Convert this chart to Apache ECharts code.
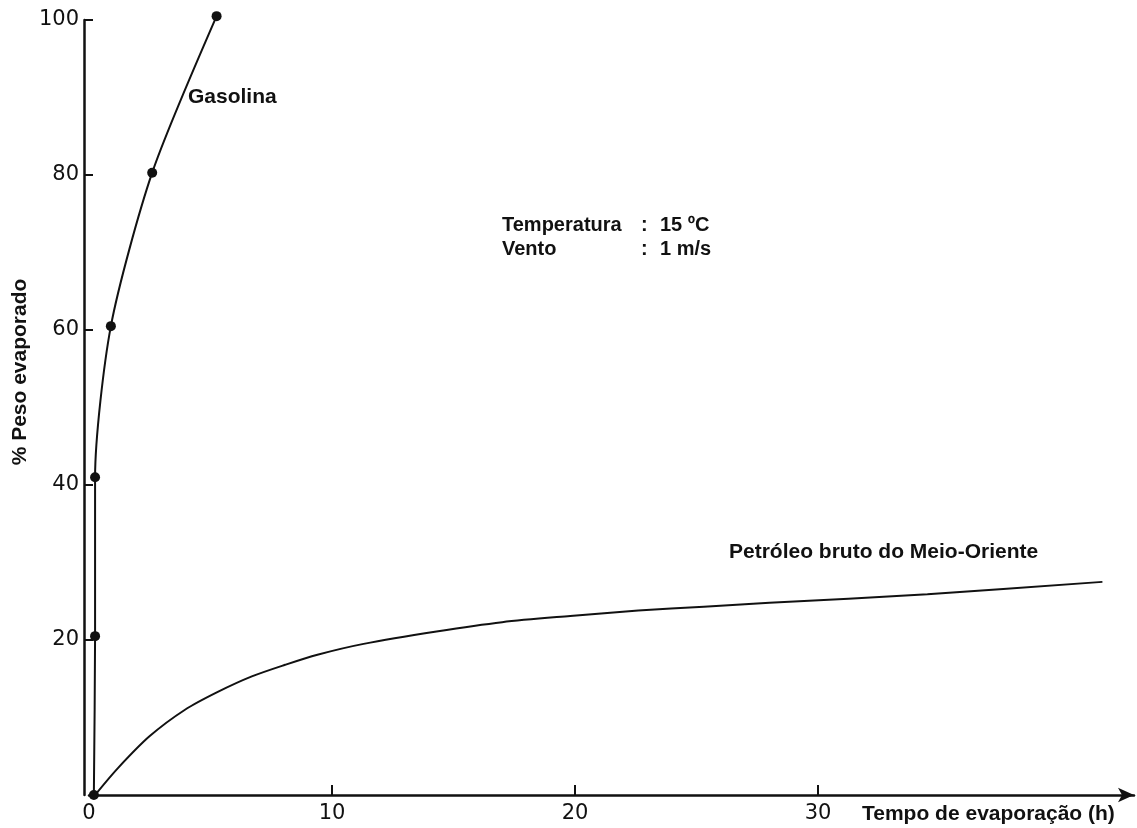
<!DOCTYPE html>
<html>
<head>
<meta charset="utf-8">
<script src="https://cdn.jsdelivr.net/npm/echarts@6/dist/echarts.min.js"></script>
<style>
html,body{margin:0;padding:0;background:#fff;}
#chart{width:1137px;height:828px;}
</style>
</head>
<body>
<div id="chart"></div>
<script>
// Data
var gasolina = [[0.2, 0], [0.25, 20.5], [0.25, 41], [0.9, 60.5], [2.6, 80.3], [5.25, 100.5]];
var petroleo = [[0.25, 0], [1.2, 3.5], [2.5, 7.6], [3.95, 11.0], [5.3, 13.3], [6.7, 15.3], [8.07, 16.8],
                [9.4, 18.1], [11.3, 19.5], [14.3, 21.1], [17, 22.3], [19.8, 23.1], [22.6, 23.8],
                [25.3, 24.3], [28, 24.8], [34.5, 25.9], [41.7, 27.5]];
var xTickLabels = [0, 10, 20, 30];
var xTicks = [10, 20, 30];
var yTickLabels = [20, 40, 60, 80, 100];

var ink = '#111';
var labelFont = 'Liberation Sans, Arial, sans-serif';
var tickFont = 'DejaVu Sans, sans-serif';

var chart = echarts.init(document.getElementById('chart'), null, {renderer: 'canvas'});
chart.setOption({
  backgroundColor: '#fff',
  animation: false,
  grid: {left: 89, top: 20, width: 1045, height: 775, containLabel: false},
  xAxis: {
    type: 'value', min: 0, max: 43, interval: 10,
    axisLine: {show: true, onZero: false, symbol: ['none', 'arrow'], symbolSize: [11, 16], lineStyle: {color: ink, width: 2.5}},
    axisTick: {show: true, inside: true, length: 10, customValues: xTicks, lineStyle: {color: ink, width: 2}},
    axisLabel: {customValues: xTickLabels, color: ink, fontFamily: tickFont, fontSize: 21, margin: 8},
    splitLine: {show: false}
  },
  yAxis: {
    type: 'value', min: 0, max: 100, interval: 20, offset: 5,
    axisLine: {show: true, onZero: false, lineStyle: {color: ink, width: 2.5}},
    axisTick: {show: true, inside: true, length: 9, customValues: yTickLabels, lineStyle: {color: ink, width: 2}},
    axisLabel: {customValues: yTickLabels, color: ink, fontFamily: tickFont, fontSize: 21, margin: 5},
    splitLine: {show: false}
  },
  series: [
    {
      name: 'Gasolina', type: 'line', data: gasolina, smooth: 0.25, clip: false,
      symbol: 'circle', symbolSize: 10, showSymbol: true,
      lineStyle: {color: ink, width: 2}, itemStyle: {color: ink}
    },
    {
      name: 'Petróleo bruto do Meio-Oriente', type: 'line', data: petroleo, smooth: 0.3, clip: false,
      showSymbol: false, symbol: 'none',
      lineStyle: {color: ink, width: 2}
    }
  ],
  graphic: [
    {type: 'text', x: 20, y: 372, rotation: Math.PI / 2,
     style: {text: '% Peso evaporado', fill: ink, font: 'bold 21px ' + labelFont, textAlign: 'center', textVerticalAlign: 'middle'}},
    {type: 'text', x: 862, y: 814,
     style: {text: 'Tempo de evaporação (h)', fill: ink, font: 'bold 21px ' + labelFont, textAlign: 'left', textVerticalAlign: 'middle'}},
    {type: 'text', x: 188, y: 97,
     style: {text: 'Gasolina', fill: ink, font: 'bold 21px ' + labelFont, textAlign: 'left', textVerticalAlign: 'middle'}},
    {type: 'text', x: 729, y: 552,
     style: {text: 'Petróleo bruto do Meio-Oriente', fill: ink, font: 'bold 21px ' + labelFont, textAlign: 'left', textVerticalAlign: 'middle'}},
    {type: 'text', x: 502, y: 225,
     style: {text: 'Temperatura', fill: ink, font: 'bold 20px ' + labelFont, textAlign: 'left', textVerticalAlign: 'middle'}},
    {type: 'text', x: 641, y: 225,
     style: {text: ':', fill: ink, font: 'bold 20px ' + labelFont, textAlign: 'left', textVerticalAlign: 'middle'}},
    {type: 'text', x: 660, y: 225,
     style: {text: '15 ºC', fill: ink, font: 'bold 20px ' + labelFont, textAlign: 'left', textVerticalAlign: 'middle'}},
    {type: 'text', x: 502, y: 249,
     style: {text: 'Vento', fill: ink, font: 'bold 20px ' + labelFont, textAlign: 'left', textVerticalAlign: 'middle'}},
    {type: 'text', x: 641, y: 249,
     style: {text: ':', fill: ink, font: 'bold 20px ' + labelFont, textAlign: 'left', textVerticalAlign: 'middle'}},
    {type: 'text', x: 660, y: 249,
     style: {text: '1 m/s', fill: ink, font: 'bold 20px ' + labelFont, textAlign: 'left', textVerticalAlign: 'middle'}}
  ]
});
</script>
</body>
</html>
